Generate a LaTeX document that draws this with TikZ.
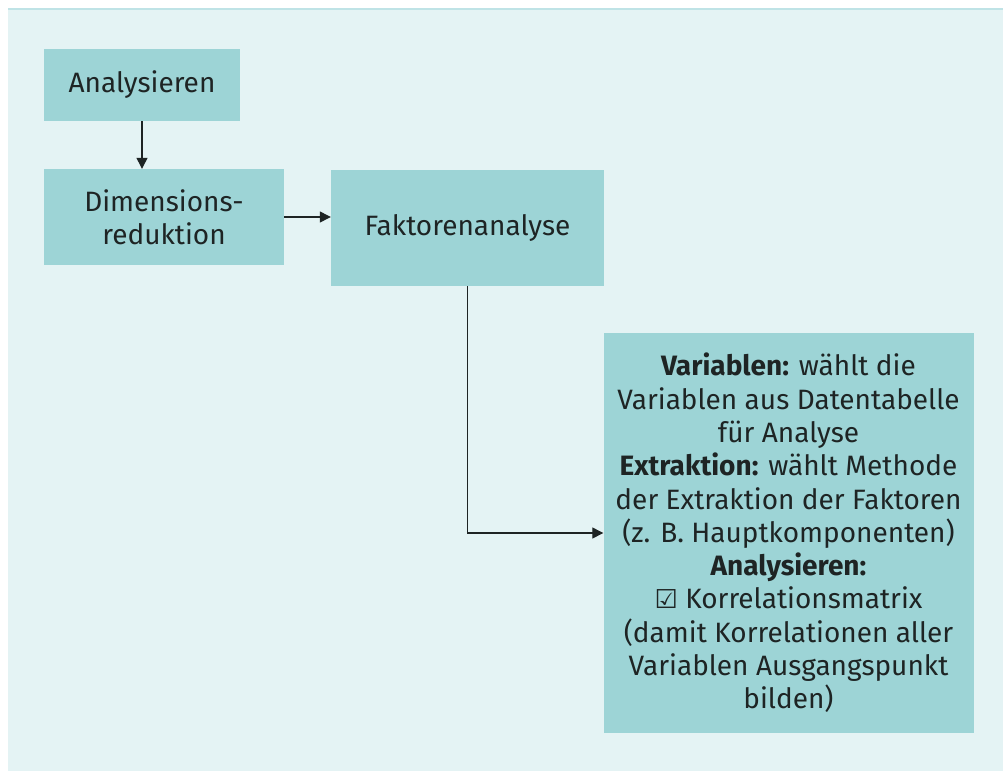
\documentclass[tikz,border=0pt]{standalone}
\usepackage{fontspec}
\setmainfont{Fira Sans}
\newfontfamily\symfont{DejaVu Sans}
\usetikzlibrary{arrows.meta}
\definecolor{panel}{HTML}{E4F3F4}
\definecolor{panelline}{HTML}{BFE3E6}
\definecolor{boxfill}{HTML}{9DD4D6}
\definecolor{ink}{HTML}{1E2424}
\begin{document}
\begin{tikzpicture}[x=1pt,y=-1pt,
  stepbox/.style={fill=boxfill, draw=none, inner sep=0pt, align=center,
    text=ink, font=\fontsize{28}{33.3}\selectfont},
  flow/.style={draw=ink, line width=1.3pt, -{Triangle[length=11pt,width=11pt]}}]
  % canvas and panel
  \useasboundingbox (0,0) rectangle (1003,771);
  \fill[white] (0,0) rectangle (1003,771);
  \fill[panel] (8,9) rectangle (1003,771);
  \draw[panelline, line width=1.2pt] (8,9) -- (1003,9);
  % boxes
  \node[stepbox, minimum width=196pt, minimum height=72pt] (ana) at (142,85) {Analysieren};
  \node[stepbox, minimum width=240pt, minimum height=96pt] (dim) at (164,217) {Dimensions-\\reduktion};
  \node[stepbox, minimum width=273pt, minimum height=116pt] (fak) at (467.5,228) {Faktorenanalyse};
  \node[stepbox, minimum width=370pt, minimum height=400pt] (det) at (788.5,533)
    {\textbf{Variablen:} wählt die\\
     Variablen aus Datentabelle\\
     für Analyse\\
     \textbf{Extraktion:} wählt Methode\\
     der Extraktion der Faktoren\\
     (z. B. Hauptkomponenten)\\
     \textbf{Analysieren:}\\
     {\symfont\fontsize{26}{33.3}\selectfont ☑} Korrelationsmatrix\\
     (damit Korrelationen aller\\
     Variablen Ausgangspunkt\\
     bilden)};
  % connectors
  \draw[flow] (ana.south) -- (ana.south |- dim.north);
  \draw[flow] (dim.east) -- (dim.east -| fak.west);
  \draw[flow] (fak.south) |- (det.west);
\end{tikzpicture}
\end{document}
